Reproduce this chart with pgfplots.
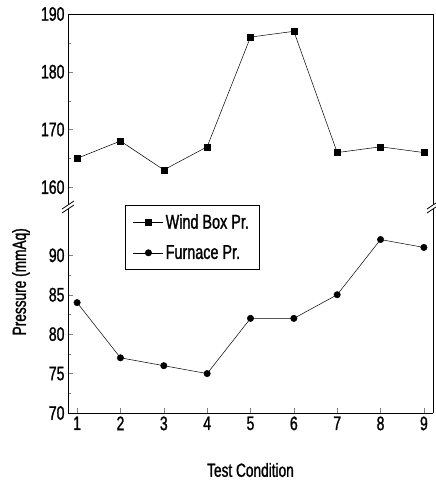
\documentclass[border=0pt]{standalone}
\usepackage{fontspec}
\setmainfont{Liberation Sans}[FakeStretch=0.72, FakeBold=1.2]
\usepackage{pgfplots}
\pgfplotsset{compat=1.18}

\pgfplotsset{
  brk/.style={
    scale only axis, width=365pt, xmin=0.79, xmax=9.21,
    axis line style={-, line width=0.8pt},
    tick align=inside, ytick pos=left,
    major tick length=5pt, minor tick length=3pt,
    minor y tick num=1,
    /pgf/number format/assume math mode=true,
    tick label style={font=\fontsize{19.5}{21}\selectfont},
    legend image code/.code={\draw[mark repeat=2,mark phase=2,#1]
      plot coordinates {(0pt,0pt)(15pt,0pt)(30pt,0pt)};},
  },
}

\begin{document}
\begin{tikzpicture}
\path[use as bounding box] (-68pt,-72pt) rectangle (368pt,413pt);

% lower part
\begin{axis}[brk, at={(0pt,0pt)}, anchor=south west, height=205pt,
  ymin=70, ymax=96, ytick={70,75,...,90},
  axis x line*=bottom, axis y line*=box,
  xtick={1,...,9}, xtick pos=bottom,
  xlabel={Test Condition},
  xlabel style={font=\fontsize{19}{21}\selectfont, at={(rel axis cs:0.5,0)}, anchor=center, yshift=-57pt},
  ylabel={Pressure (mmAq)},
  ylabel style={font=\fontsize{19}{21}\selectfont, at={(rel axis cs:0,0.64)}, anchor=center, yshift=47pt},
  legend style={at={(0.156,1.015)}, anchor=north west, draw=black,
    line width=0.5pt, font=\fontsize{20}{22}\selectfont,
    row sep=11pt, inner xsep=8pt, inner ysep=7pt},
  legend cell align=left,
  clip=false,
]
\addlegendimage{black, line width=0.5pt, mark=square*, mark size=3pt}
\addlegendentry{Wind Box Pr.}
\addplot[black, line width=0.5pt, mark=*, mark size=3.2pt] coordinates {
  (1,84) (2,77) (3,76) (4,75) (5,82) (6,82) (7,85) (8,92) (9,91)};
\addlegendentry{Furnace Pr.}
\end{axis}

% upper part
\begin{axis}[brk, at={(0pt,205pt)}, anchor=south west, height=194pt,
  ymin=156.4, ymax=190, ytick={160,170,180,190},
  axis x line*=top, axis y line*=box,
  xtick=\empty,
]
\addplot[black, line width=0.5pt, mark=square*, mark size=3pt] coordinates {
  (1,165) (2,168) (3,163) (4,167) (5,186) (6,187) (7,166) (8,167) (9,166)};
\end{axis}

% axis break marks
\foreach \x in {0,365} {
  \fill[white] (\x pt-6pt,200pt) -- (\x pt+6pt,208pt) -- (\x pt+6pt,212pt) -- (\x pt-6pt,204pt) -- cycle;
  \draw[line width=0.8pt] (\x pt-6pt,200pt) -- (\x pt+6pt,208pt);
  \draw[line width=0.8pt] (\x pt-6pt,204pt) -- (\x pt+6pt,212pt);
}
\end{tikzpicture}
\end{document}
